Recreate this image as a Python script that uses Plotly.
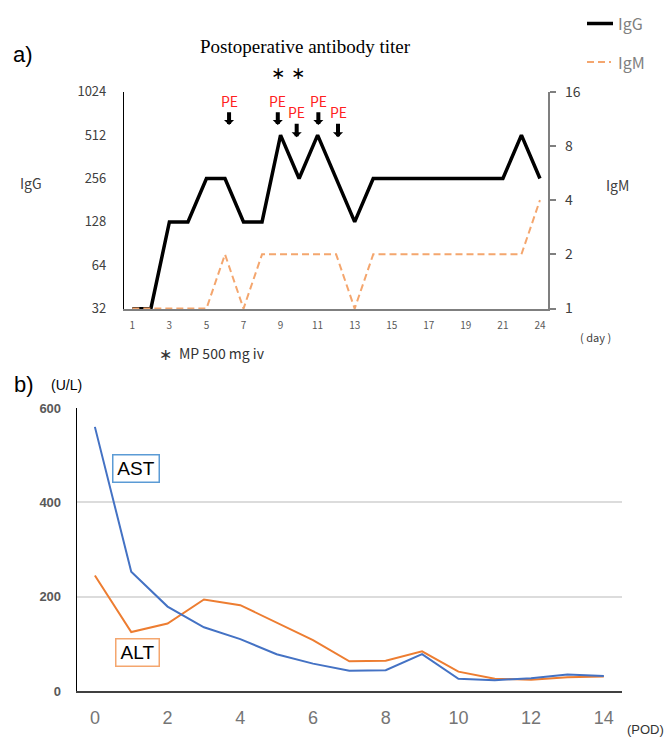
import math
import plotly.graph_objects as go

W, H = 671, 737

def px(x):
    return x / W

def py(y):
    return 1 - y / H

# ---------------- data: panel a ----------------
days = [1, 2, 3, 4, 5, 6, 7, 8, 9, 10, 11, 12, 13, 14, 15, 16, 17, 18, 19, 20, 21, 22, 24]
igg = [32, 32, 128, 128, 256, 256, 128, 128, 512, 256, 512, 256, 128, 256, 256, 256,
       256, 256, 256, 256, 256, 512, 256]
igm = [1, 1, 1, 1, 1, 2, 1, 2, 2, 2, 2, 2, 1, 2, 2, 2, 2, 2, 2, 2, 2, 2, 4]
igg_ticks = [32, 64, 128, 256, 512, 1024]
igm_ticks = [1, 2, 4, 8, 16]
pe_positions = [5.22, 7.85, 8.87, 10.04, 11.1]
pe_rows = [0, 0, 1, 0, 1]
mp_positions = [7.87, 8.95]

# ---------------- data: panel b ----------------
pod = list(range(15))
ast = [560, 253, 179, 135, 110, 78, 58, 43, 44, 78, 26, 23, 27, 35, 32]
alt = [245, 125, 143, 194, 182, 145, 108, 63, 64, 84, 41, 26, 24, 29, 31]
pod_ticks = [0, 2, 4, 6, 8, 10, 12, 14]
ul_ticks = [0, 200, 400, 600]

JP = "Noto Sans CJK JP"
SANS = "Liberation Sans"

idx = list(range(len(days)))

fig = go.Figure()
fig.add_trace(go.Scatter(x=idx, y=igm, mode="lines", xaxis="x", yaxis="y2",
                         line=dict(color="#F4A66E", width=2, dash="7px,4px"),
                         showlegend=False))
fig.add_trace(go.Scatter(x=idx, y=igg, mode="lines", xaxis="x", yaxis="y",
                         line=dict(color="black", width=3.5), showlegend=False))
fig.add_trace(go.Scatter(x=pod, y=alt, mode="lines", xaxis="x2", yaxis="y3",
                         line=dict(color="#ED7D31", width=2), showlegend=False))
fig.add_trace(go.Scatter(x=pod, y=ast, mode="lines", xaxis="x2", yaxis="y3",
                         line=dict(color="#4472C4", width=2), showlegend=False))

annotations = []

def txt(x, y, text, size, color="black", family=JP, xanchor="center", **kw):
    annotations.append(dict(x=px(x), y=py(y), xref="paper", yref="paper", text=text,
                            showarrow=False, xanchor=xanchor, yanchor="middle",
                            font=dict(size=size, color=color, family=family), **kw))

txt(11, 55, "a)", 22, family=SANS, xanchor="left")
txt(305, 46, "Postoperative antibody titer", 19, family="Liberation Serif")
txt(31, 183, "IgG", 14, color="#404040")
txt(617, 185, "IgM", 14, color="#404040")
txt(595, 337, "( day )", 11, color="#404040")
txt(616, 23, "IgG", 16, color="#808080", xanchor="left")
txt(616, 62, "IgM", 16, color="#808080", xanchor="left")
txt(165, 355, "∗", 16, color="#333333", family="DejaVu Sans")
txt(177, 353, "MP 500 mg iv", 14, color="#333333", xanchor="left")

for p in mp_positions:
    annotations.append(dict(x=p, y=py(73), xref="x", yref="paper", text="∗",
                            showarrow=False, xanchor="center", yanchor="middle",
                            font=dict(size=17, color="black", family="DejaVu Sans")))

for p, r in zip(pe_positions, pe_rows):
    tip = 125 if r == 0 else 137.3
    center = 100.7 if r == 0 else 112.3
    annotations.append(dict(x=p, y=py(tip), xref="x", yref="paper", text="PE",
                            showarrow=True, ax=0, ay=center - tip,
                            arrowhead=1, arrowsize=0.42, arrowwidth=4, arrowcolor="black",
                            font=dict(size=14, color="#FF2020", family=JP)))

# panel b text
txt(12, 385, "b)", 22, family=SANS, xanchor="left")
txt(49, 385, "(U/L)", 14, family=SANS, xanchor="left")
txt(625, 729, "(POD)", 13, color="#333333", family=SANS, xanchor="left")
txt(136, 468.5, "AST", 19, family=SANS, width=45, height=26, borderpad=0,
    bordercolor="#5B9BD5", borderwidth=1.5, bgcolor="white")
txt(137.8, 652.8, "ALT", 19, family=SANS, width=42, height=26, borderpad=0,
    bordercolor="#F4A66E", borderwidth=1.5, bgcolor="white")

shapes = [
    dict(type="line", xref="paper", yref="paper", x0=px(587), x1=px(613), y0=py(23.5), y1=py(23.5),
         line=dict(color="black", width=3.5)),
    dict(type="line", xref="paper", yref="paper", x0=px(587), x1=px(611), y0=py(62), y1=py(62),
         line=dict(color="#F4A66E", width=2, dash="7px,4px")),
]

fig.update_layout(
    width=W, height=H,
    margin=dict(l=0, r=0, t=0, b=0, autoexpand=False),
    paper_bgcolor="white", plot_bgcolor="white",
    showlegend=False,
    annotations=annotations,
    shapes=shapes,
    xaxis=dict(domain=[px(124), px(548.3)], anchor="y", range=[-0.45, 22.45],
               tickvals=idx[::2], ticktext=[str(d) for d in days[::2]],
               showline=True, linecolor="#7f7f7f", linewidth=1.5, ticks="",
               showgrid=False, zeroline=False, ticklabelstandoff=6, automargin=False,
               tickfont=dict(size=10, color="#595959", family=JP)),
    yaxis=dict(domain=[py(309.3), py(91.7)], anchor="x", type="log",
               range=[math.log10(32) - 0.004, math.log10(1024)],
               tickvals=igg_ticks, ticktext=[str(v) for v in igg_ticks],
               showline=True, linecolor="black", linewidth=1.2, ticks="",
               showgrid=False, zeroline=False, ticklabelstandoff=14, automargin=False,
               tickfont=dict(size=13, color="#404040", family=JP)),
    yaxis2=dict(overlaying="y", anchor="x", side="right", type="log",
                range=[-0.004, math.log10(16)],
                tickvals=igm_ticks, ticktext=[str(v) for v in igm_ticks],
                showline=True, linecolor="#7f7f7f", linewidth=2,
                ticks="outside", ticklen=6, tickcolor="#7f7f7f", tickwidth=1.5,
                showgrid=False, zeroline=False, ticklabelstandoff=6, automargin=False,
                tickfont=dict(size=14, color="#404040", family=JP)),
    xaxis2=dict(domain=[px(76.7), px(622)], anchor="y3", range=[-0.5, 14.5],
                tickvals=pod_ticks, showline=True, linecolor="#404040", linewidth=1.5,
                ticks="", showgrid=False, zeroline=False, ticklabelstandoff=10, automargin=False,
                tickfont=dict(size=18, color="#757575", family=SANS)),
    yaxis3=dict(domain=[py(691), py(408)], anchor="x2", range=[0, 600],
                tickvals=ul_ticks, showline=True, linecolor="black", linewidth=1,
                ticks="", showgrid=True, gridcolor="#dcdcdc", gridwidth=1.5,
                zeroline=False, ticklabelstandoff=12, automargin=False,
                tickfont=dict(size=13, color="#595959", family=SANS, weight="bold")),
)

fig.write_html("out.html", config={"displayModeBar": False},
               post_script="document.body.style.margin='0px';document.body.style.overflow='hidden';")
